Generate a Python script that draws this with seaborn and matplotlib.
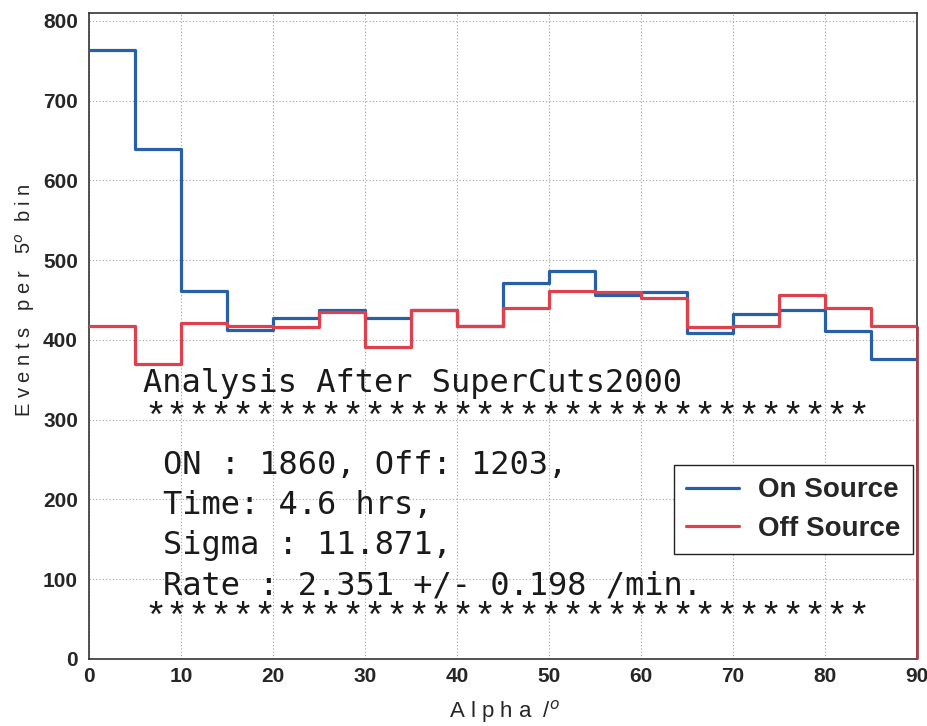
import numpy as np
import pandas as pd
import matplotlib
matplotlib.use("Agg")
import matplotlib.pyplot as plt
import seaborn as sns
from matplotlib.lines import Line2D

# ---- data ----
bin_edges = [0, 5, 10, 15, 20, 25, 30, 35, 40, 45, 50, 55, 60, 65, 70, 75, 80, 85, 90]
on_source = [764, 639, 462, 413, 428, 438, 428, 438, 417, 472, 486, 457, 460, 409, 432, 438, 411, 376]
off_source = [417, 370, 421, 417, 416, 435, 391, 438, 417, 440, 461, 460, 453, 416, 418, 457, 440, 418]
x_ticks = [0, 10, 20, 30, 40, 50, 60, 70, 80, 90]
y_ticks = [0, 100, 200, 300, 400, 500, 600, 700, 800]
info_lines = ["ON : 1860, Off: 1203,", "Time: 4.6 hrs,", "Sigma : 11.871,", "Rate : 2.351 +/- 0.198 /min."]
title_text = "Analysis After SuperCuts2000"
stars = "*" * 33

centers = [(a + b) / 2 for a, b in zip(bin_edges[:-1], bin_edges[1:])]
df_on = pd.DataFrame({"alpha": centers, "count": on_source})
df_off = pd.DataFrame({"alpha": centers, "count": off_source})

sns.set_theme(style="white")
plt.rcParams["font.family"] = ["Liberation Sans", "DejaVu Sans"]

fig = plt.figure(figsize=(9.28, 7.26), dpi=100)
ax = fig.add_axes([89 / 928, 67 / 726, (917 - 89) / 928, (659 - 13) / 726])

blue = "#2860a8"
red = "#e0404c"
sns.histplot(data=df_on, x="alpha", weights="count", bins=bin_edges, element="step",
             fill=False, color=blue, linewidth=2.3, ax=ax, zorder=3)
sns.histplot(data=df_off, x="alpha", weights="count", bins=bin_edges, element="step",
             fill=False, color=red, linewidth=2.3, ax=ax, zorder=4)
# closing edge of the off-source step outline at the last bin edge
ax.vlines(bin_edges[-1], 0, off_source[-1], color="#a8404c", linewidth=2.0, zorder=5, clip_on=False)

ax.set_xlim(0, 90)
ax.set_ylim(0, 810)
ax.set_xticks(x_ticks)
ax.set_yticks(y_ticks)
ax.set_xticklabels([str(v) for v in x_ticks], fontsize=15, fontweight="bold")
ax.set_yticklabels([str(v) for v in y_ticks], fontsize=15, fontweight="bold")
ax.tick_params(axis="y", direction="in", length=5, width=0.8, color="#555555", pad=8)
ax.tick_params(axis="x", direction="in", length=5, width=0.8, color="#555555", pad=6)
ax.grid(True, linestyle=(0, (1, 2)), color="#a0a0a0", linewidth=0.8)
ax.set_axisbelow(True)
for s in ax.spines.values():
    s.set_color("#333333")
    s.set_linewidth(1.2)

ax.set_xlabel("A l p h a  /$^{o}$", fontsize=16)
ax.set_ylabel("E v e n t s   p e r   5$^{o}$  b i n", fontsize=14.5)
ax.xaxis.set_label_coords((505 - 89) / 828, (659 - 698) / 646)
ax.yaxis.set_label_coords((37 - 89) / 828, (659 - 300) / 646)

# text block
tfont = dict(family=["DejaVu Sans Mono", "DejaVu Sans"], color="#1a1a1a")
sfont = dict(family=["Liberation Mono", "DejaVu Sans Mono"], color="#1a1a1a")
ax.text(5.9, 345, title_text, fontsize=23, va="center", ha="left", **tfont)
ax.text(6.0, 301, stars, fontsize=26.5, va="center", ha="left", **sfont)
for yv, line in zip([242, 192, 142, 92], info_lines):
    ax.text(8.0, yv, line, fontsize=23, va="center", ha="left", **tfont)
ax.text(6.0, 51, stars, fontsize=26.5, va="center", ha="left", **sfont)

handles = [Line2D([0], [0], color=blue, lw=2.3), Line2D([0], [0], color=red, lw=2.3)]
leg = ax.legend(handles, ["On Source", "Off Source"], loc="upper right",
                bbox_to_anchor=((913 - 89) / 828, (659 - 465) / 646),
                prop=dict(size=20, weight="bold"), frameon=True, fancybox=False,
                framealpha=1, edgecolor="#222222", handlelength=1.9,
                borderpad=0.44, labelspacing=0.45, handletextpad=0.7, borderaxespad=0)
leg.get_frame().set_linewidth(1.0)
leg.set_zorder(10)

fig.savefig("out.png", dpi=100)
